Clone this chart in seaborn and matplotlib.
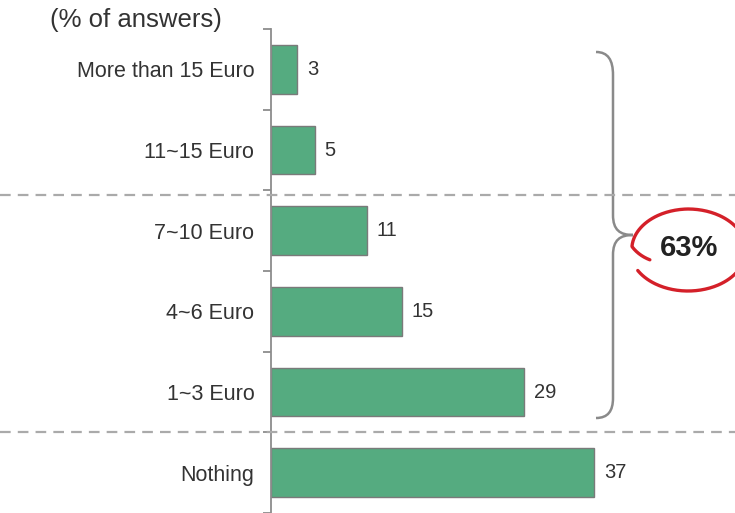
import numpy as np
import pandas as pd
import matplotlib
matplotlib.use("Agg")
import matplotlib.pyplot as plt
import seaborn as sns
from matplotlib.path import Path
from matplotlib.patches import PathPatch
from matplotlib.transforms import blended_transform_factory

categories = ["More than 15 Euro", "11~15 Euro", "7~10 Euro", "4~6 Euro", "1~3 Euro", "Nothing"]
values = [3, 5, 11, 15, 29, 37]
unit_label = "(% of answers)"
bracket_label = "63%"

sns.set_theme(style="white")
plt.rcParams["font.family"] = ["Liberation Sans", "DejaVu Sans"]

W, H = 735, 513
fig = plt.figure(figsize=(W / 100, H / 100), dpi=100)
ax = fig.add_axes([271 / W, 0.0, 464 / W, 1 - 29 / H])

df = pd.DataFrame({"cat": categories, "val": values})
sns.barplot(data=df, x="val", y="cat", orient="h", color="#55ab80", saturation=1,
            width=0.6, edgecolor="#7a7a7a", linewidth=1.0, ax=ax)

ax.set_xlim(0, 464 / 8.73)
ax.set_ylim(5.5, -0.5)
ax.set_xlabel("")
ax.set_ylabel("")
ax.set_xticks([])
for s in ["top", "right", "bottom"]:
    ax.spines[s].set_visible(False)
ax.spines["left"].set_color("#8c8c8c")
ax.spines["left"].set_linewidth(1.3)

ax.set_yticks(range(len(categories)))
ax.set_yticklabels(categories, fontsize=15.5, color="#333333")
for lbl in ax.get_yticklabels():
    lbl.set_va("center_baseline")
ax.tick_params(axis="y", which="major", length=0, pad=12)
ax.set_yticks(np.arange(-0.5, len(categories), 1.0), minor=True)
ax.tick_params(axis="y", which="minor", length=6, width=1.3, color="#8c8c8c", direction="out", left=True)

for cont in ax.containers:
    ax.bar_label(cont, labels=[str(v) for v in values], padding=7, fontsize=14.5, color="#333333")

fig.text(50 / W, 1 - 20 / H, unit_label, fontsize=18.5, color="#333333", ha="left", va="center")

# dashed separators
tr = blended_transform_factory(fig.transFigure, ax.transData)
for yy in [1.56, 4.5]:
    ln = plt.Line2D([0, 1], [yy, yy], transform=tr, color="#aaaaaa", lw=1.6,
                    dashes=(4.8, 3.2), clip_on=False)
    fig.add_artist(ln)

def P(x, y):
    return (x / W, 1 - y / H)

# curly brace
verts = [P(596, 52), P(608, 52), P(613, 60), P(613, 75),
         P(613, 215),
         P(613, 230), P(620, 235), P(633, 235),
         P(620, 235), P(613, 240), P(613, 255),
         P(613, 398),
         P(613, 411), P(608, 418), P(596, 418)]
codes = [Path.MOVETO, Path.CURVE4, Path.CURVE4, Path.CURVE4,
         Path.LINETO,
         Path.CURVE4, Path.CURVE4, Path.CURVE4,
         Path.CURVE4, Path.CURVE4, Path.CURVE4,
         Path.LINETO,
         Path.CURVE4, Path.CURVE4, Path.CURVE4]
fig.add_artist(PathPatch(Path(verts, codes), transform=fig.transFigure, fill=False,
                         edgecolor="#8a8a8a", lw=1.8))

# hand-drawn red loop
cx, cy, a, b = 688, 250, 58, 41
t = np.deg2rad(np.linspace(200, -150, 300))
s = np.interp(np.rad2deg(t), [-150, 90, 175, 200], [1.0, 1.0, 0.97, 0.7])
xs = cx + a * s * np.cos(t)
ys = cy - b * s * np.sin(t)
fig.add_artist(plt.Line2D(xs / W, 1 - ys / H, transform=fig.transFigure,
                          color="#d42029", lw=2.4, solid_capstyle="round"))

fig.text(689 / W, 1 - 248 / H, bracket_label, fontsize=21, fontweight="bold",
         color="#222222", ha="center", va="center")

fig.savefig("out.png", dpi=100)
